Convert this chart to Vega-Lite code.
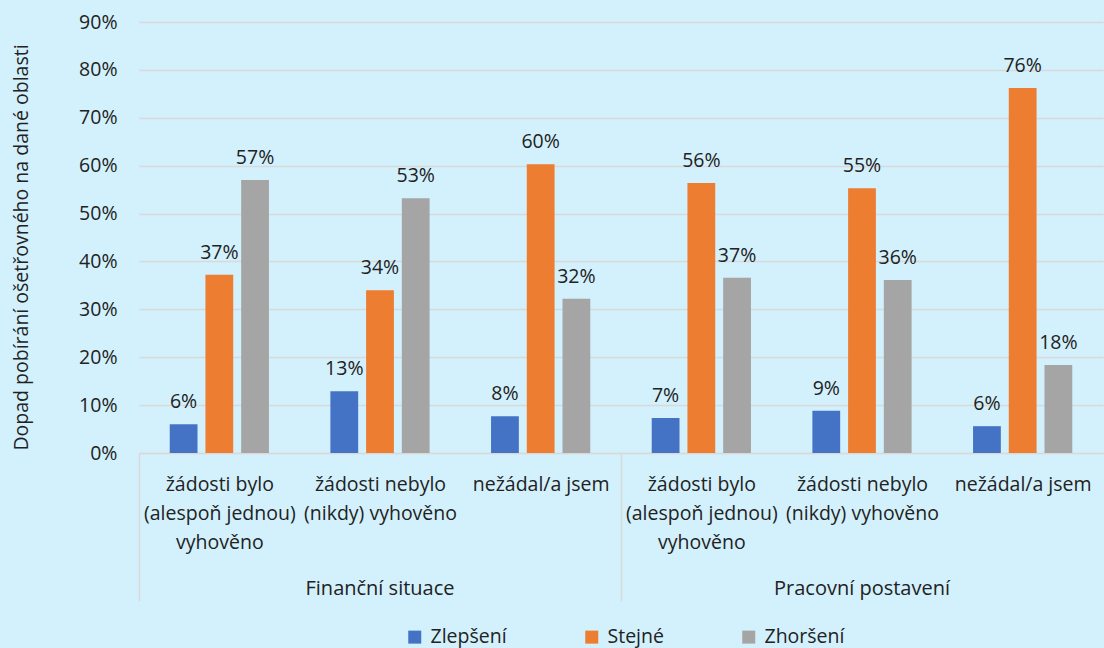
{
  "$schema": "https://vega.github.io/schema/vega-lite/v6.json",
  "background": "#d3f1fc",
  "padding": {"left": 11, "top": 12, "right": 0, "bottom": 3},
  "data": {
    "values": [
      {"oblast": "Finanční situace", "odpoved": "žádosti bylo (alespoň jednou) vyhověno", "dopad": "Zlepšení", "hodnota": 0.060},
      {"oblast": "Finanční situace", "odpoved": "žádosti bylo (alespoň jednou) vyhověno", "dopad": "Stejné", "hodnota": 0.372},
      {"oblast": "Finanční situace", "odpoved": "žádosti bylo (alespoň jednou) vyhověno", "dopad": "Zhoršení", "hodnota": 0.570},
      {"oblast": "Finanční situace", "odpoved": "žádosti nebylo (nikdy) vyhověno", "dopad": "Zlepšení", "hodnota": 0.129},
      {"oblast": "Finanční situace", "odpoved": "žádosti nebylo (nikdy) vyhověno", "dopad": "Stejné", "hodnota": 0.340},
      {"oblast": "Finanční situace", "odpoved": "žádosti nebylo (nikdy) vyhověno", "dopad": "Zhoršení", "hodnota": 0.532},
      {"oblast": "Finanční situace", "odpoved": "nežádal/a jsem", "dopad": "Zlepšení", "hodnota": 0.077},
      {"oblast": "Finanční situace", "odpoved": "nežádal/a jsem", "dopad": "Stejné", "hodnota": 0.603},
      {"oblast": "Finanční situace", "odpoved": "nežádal/a jsem", "dopad": "Zhoršení", "hodnota": 0.322},
      {"oblast": "Pracovní postavení", "odpoved": "žádosti bylo (alespoň jednou) vyhověno", "dopad": "Zlepšení", "hodnota": 0.073},
      {"oblast": "Pracovní postavení", "odpoved": "žádosti bylo (alespoň jednou) vyhověno", "dopad": "Stejné", "hodnota": 0.564},
      {"oblast": "Pracovní postavení", "odpoved": "žádosti bylo (alespoň jednou) vyhověno", "dopad": "Zhoršení", "hodnota": 0.366},
      {"oblast": "Pracovní postavení", "odpoved": "žádosti nebylo (nikdy) vyhověno", "dopad": "Zlepšení", "hodnota": 0.088},
      {"oblast": "Pracovní postavení", "odpoved": "žádosti nebylo (nikdy) vyhověno", "dopad": "Stejné", "hodnota": 0.553},
      {"oblast": "Pracovní postavení", "odpoved": "žádosti nebylo (nikdy) vyhověno", "dopad": "Zhoršení", "hodnota": 0.361},
      {"oblast": "Pracovní postavení", "odpoved": "nežádal/a jsem", "dopad": "Zlepšení", "hodnota": 0.056},
      {"oblast": "Pracovní postavení", "odpoved": "nežádal/a jsem", "dopad": "Stejné", "hodnota": 0.762},
      {"oblast": "Pracovní postavení", "odpoved": "nežádal/a jsem", "dopad": "Zhoršení", "hodnota": 0.184}
    ]
  },
  "facet": {
    "column": {
      "field": "oblast",
      "type": "nominal",
      "sort": ["Finanční situace", "Pracovní postavení"],
      "header": {
        "title": null,
        "labelOrient": "bottom",
        "labelFont": "Open Sans",
        "labelFontSize": 20,
        "labelColor": "#222222",
        "labelPadding": -23
      }
    }
  },
  "spacing": 0,
  "spec": {
    "width": 482,
    "height": 431,
    "encoding": {
      "x": {
        "field": "odpoved",
        "type": "nominal",
        "sort": ["žádosti bylo (alespoň jednou) vyhověno", "žádosti nebylo (nikdy) vyhověno", "nežádal/a jsem"],
        "scale": {"paddingInner": 0, "paddingOuter": 0},
        "axis": {
          "title": null,
          "labelAngle": 0,
          "labelFont": "Open Sans",
          "labelFontSize": 19.5,
          "labelColor": "#222222",
          "labelBaseline": "top",
          "labelLineHeight": 29,
          "labelLimit": 0,
          "labelOverlap": false,
          "labelBound": false,
          "labelExpr": "datum.value == 'žádosti bylo (alespoň jednou) vyhověno' ? ['žádosti bylo', '(alespoň jednou)', 'vyhověno'] : datum.value == 'žádosti nebylo (nikdy) vyhověno' ? ['žádosti nebylo', '(nikdy) vyhověno'] : datum.value",
          "tickBand": "extent",
          "tickSize": 148,
          "tickWidth": 1.5,
          "tickColor": {"condition": {"test": "datum.index < 0", "value": "#d9d9d9"}, "value": "transparent"},
          "labelPadding": -126,
          "domainColor": "#d9d9d9",
          "domainWidth": 1.5
        }
      },
      "y": {
        "field": "hodnota",
        "type": "quantitative",
        "scale": {"domain": [0, 0.9]},
        "axis": {
          "title": "Dopad pobírání ošetřovného na dané oblasti",
          "titleFont": "Open Sans",
          "titleFontSize": 19.5,
          "titleFontWeight": "normal",
          "titleColor": "#222222",
          "titlePadding": 47,
          "titleY": 225,
          "format": ".0%",
          "tickCount": 9,
          "labelFont": "Open Sans",
          "labelFontSize": 19.5,
          "labelColor": "#222222",
          "labelPadding": 22,
          "ticks": false,
          "domain": false,
          "gridColor": "#d9d9d9",
          "gridWidth": 1.5
        }
      },
      "xOffset": {
        "field": "dopad",
        "type": "nominal",
        "sort": ["Zlepšení", "Stejné", "Zhoršení"],
        "scale": {"paddingInner": 0.222, "paddingOuter": 0.86}
      }
    },
    "layer": [
      {
        "mark": {"type": "bar"},
        "encoding": {
          "color": {
            "field": "dopad",
            "type": "nominal",
            "sort": ["Zlepšení", "Stejné", "Zhoršení"],
            "scale": {"domain": ["Zlepšení", "Stejné", "Zhoršení"], "range": ["#4472c4", "#ed7d31", "#a5a5a5"]},
            "legend": {
              "title": null,
              "orient": "none",
              "legendX": 266,
              "legendY": 605,
              "direction": "horizontal",
              "symbolType": "square",
              "symbolSize": 169,
              "symbolStrokeWidth": 0,
              "labelFont": "Open Sans",
              "labelFontSize": 19.5,
              "labelColor": "#222222",
              "labelOffset": 6,
              "columnPadding": 75
            }
          }
        }
      },
      {
        "mark": {"type": "text", "baseline": "alphabetic", "dy": -16, "font": "Open Sans", "fontSize": 19.5, "color": "#222222"},
        "encoding": {
          "text": {"field": "hodnota", "type": "quantitative", "format": ".0%"}
        }
      }
    ]
  },
  "config": {
    "view": {"stroke": null}
  }
}
